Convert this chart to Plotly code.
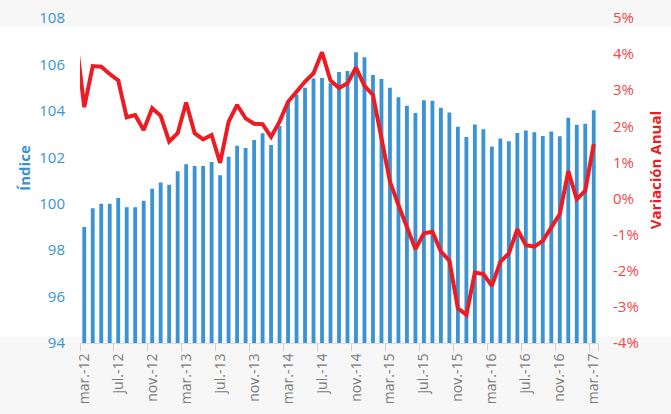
import plotly.graph_objects as go

month_names = ["ene.", "feb.", "mar.", "abr.", "may.", "jun.", "jul.", "ago.",
               "sep.", "oct.", "nov.", "dic."]
# feb.-12 .. mar.-17 (feb.-12 only feeds the start of the line, outside the range)
categories = [f"{month_names[(1 + i) % 12]}-{12 + (1 + i) // 12}" for i in range(62)]
bar_categories = categories[1:]
tick_labels = categories[1::4]

indice = [99.0, 99.8, 100.0, 100.0, 100.25, 99.85, 99.85, 100.13, 100.64, 100.91,
          100.82, 101.40, 101.70, 101.62, 101.62, 101.80, 101.23, 102.02, 102.50, 102.40,
          102.74, 103.04, 102.53, 103.35, 104.35, 104.70, 105.00, 105.39, 105.42, 105.19,
          105.67, 105.72, 106.53, 106.31, 105.54, 105.37, 105.00, 104.59, 104.22, 103.91,
          104.46, 104.44, 104.13, 103.93, 103.32, 102.87, 103.41, 103.21, 102.46, 102.81,
          102.69, 103.05, 103.15, 103.08, 102.92, 103.11, 102.91, 103.70, 103.40, 103.45,
          104.03]

variacion = [4.5, 2.53, 3.67, 3.65, 3.45, 3.27, 2.25, 2.31, 1.90, 2.50, 2.29,
             1.58, 1.81, 2.66, 1.81, 1.64, 1.76, 0.99, 2.13, 2.59, 2.22,
             2.07, 2.06, 1.71, 2.13, 2.68, 2.96, 3.24, 3.47, 4.05, 3.27,
             3.06, 3.19, 3.63, 3.12, 2.87, 1.67, 0.47, -0.18, -0.82, -1.40,
             -0.96, -0.92, -1.47, -1.72, -3.04, -3.22, -2.05, -2.09, -2.42, -1.75,
             -1.52, -0.85, -1.29, -1.33, -1.17, -0.82, -0.43, 0.76, -0.02, 0.22,
             1.51]

left_ticks = [94, 96, 98, 100, 102, 104, 106, 108]
right_ticks = [-4, -3, -2, -1, 0, 1, 2, 3, 4, 5]
right_ticktext = ["-4%", "-3%", "-2%", "-1%", "0%", "1%", "2%", "3%", "4%", "5%"]

BLUE = "#3a93d2"
RED = "#ec1c24"
FONT = "Open Sans"

fig = go.Figure()
fig.add_trace(go.Bar(x=bar_categories, y=indice, marker=dict(color=BLUE, line=dict(width=0)),
                     width=0.45, name="Índice"))
fig.add_trace(go.Scatter(x=categories, y=variacion, yaxis="y2", mode="lines",
                         line=dict(color=RED, width=4), name="Variación Anual"))

fig.update_layout(
    width=671, height=414,
    margin=dict(l=80, r=73, t=18, b=71),
    paper_bgcolor="#f7f7f7",
    plot_bgcolor="rgba(0,0,0,0)",
    showlegend=False,
    font=dict(family=FONT),
    xaxis=dict(type="category", categoryorder="array", categoryarray=categories,
               range=[0.5, 61.5], tickmode="array", tickvals=tick_labels,
               tickson="boundaries", ticks="outside", ticklen=7, tickcolor="#d0d0d0",
               showline=True, linecolor="#d9d9d9", linewidth=1,
               tickangle=-90, tickfont=dict(size=14, color="#7a7a7a"),
               ticklabelstandoff=4,
               showgrid=False, zeroline=False, automargin=False),
    yaxis=dict(range=[94, 108], tickvals=left_ticks, showgrid=False, zeroline=False,
               tickfont=dict(size=15, color=BLUE), ticklabelstandoff=14, automargin=False),
    yaxis2=dict(range=[-4, 5], tickvals=right_ticks, ticktext=right_ticktext,
                overlaying="y", side="right", showgrid=False, zeroline=False,
                tickfont=dict(size=15, color="#f04848"), ticklabelstandoff=14,
                automargin=False),
    shapes=[dict(type="rect", xref="paper", yref="paper", x0=-0.3, x1=1.3,
                 y0=0.019, y1=0.973, fillcolor="white", line=dict(width=0),
                 layer="below")],
    annotations=[
        dict(text="<b>Índice</b>", xref="paper", yref="paper", x=-0.107, y=0.538,
             xanchor="center", yanchor="middle",
             showarrow=False, textangle=-90, font=dict(size=15, color=BLUE)),
        dict(text="<b>Variación Anual</b>", xref="paper", yref="paper", x=1.109, y=0.533,
             xanchor="center", yanchor="middle",
             showarrow=False, textangle=-90, font=dict(size=15, color=RED)),
    ],
)

fig.write_html("out.html", config={"displayModeBar": False},
               post_script="document.body.style.margin='0';document.body.style.background='#f7f7f7';")
